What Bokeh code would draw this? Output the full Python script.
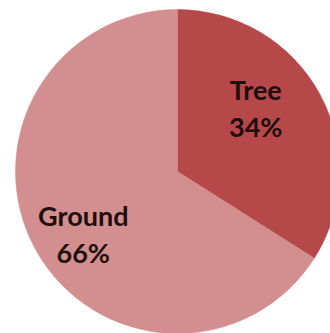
import numpy as np
from bokeh.plotting import figure
from bokeh.models import Range1d, ColumnDataSource
from bokeh.core.properties import value
from bokeh.embed import file_html
from bokeh.resources import INLINE

# ---- data ----
categories = ["Tree", "Ground"]
shares = [34, 66]
colors = ["#B6484A", "#D38E8F"]

# ---- layout ----
W, H = 330, 333
CX, CY, R = 177, 162, 162
label_r = [0.62, 0.70]          # radius fraction for label block centre
label_dang = [10.0, 5.0]        # angle nudge (degrees)
FONT = "Lato"
FS = 27
LINE_GAP = 37
BASE_OFF = 19

frac = np.array(shares, dtype=float) / sum(shares)
cum = np.cumsum(frac)
prev = np.concatenate([[0.0], cum[:-1]])
end_deg = 90 - prev * 360
start_deg = 90 - cum * 360
mid_deg = (start_deg + end_deg) / 2 + np.array(label_dang)

lx = CX + np.array(label_r) * R * np.cos(np.radians(mid_deg))
ly = CY + np.array(label_r) * R * np.sin(np.radians(mid_deg))

src = ColumnDataSource(dict(
    cat=categories,
    start=np.radians(start_deg),
    end=np.radians(end_deg),
    color=colors,
    name_y=ly + BASE_OFF,
    pct_y=ly + BASE_OFF - LINE_GAP,
    x=lx,
    pct=[f"{s}%" for s in shares],
))

p = figure(width=W, height=H, x_range=Range1d(0, W), y_range=Range1d(0, H),
           output_backend="svg", toolbar_location=None, min_border=0)
p.axis.visible = False
p.grid.visible = False
p.outline_line_color = None
p.background_fill_color = "white"
p.border_fill_color = "white"

p.wedge(x=CX, y=CY, radius=R, start_angle="start", end_angle="end",
        fill_color="color", line_color="color", line_width=0.5, source=src)

p.text(x="x", y="name_y", text="cat", source=src, text_align="center",
       text_baseline="alphabetic", text_font=value(FONT), text_font_style="bold",
       text_font_size=f"{FS}px", text_color="#1E0E0E")
p.text(x="x", y="pct_y", text="pct", source=src, text_align="center",
       text_baseline="alphabetic", text_font=value(FONT), text_font_style="bold",
       text_font_size=f"{FS}px", text_color="#1E0E0E")

open("out.html", "w").write(file_html(p, INLINE))
